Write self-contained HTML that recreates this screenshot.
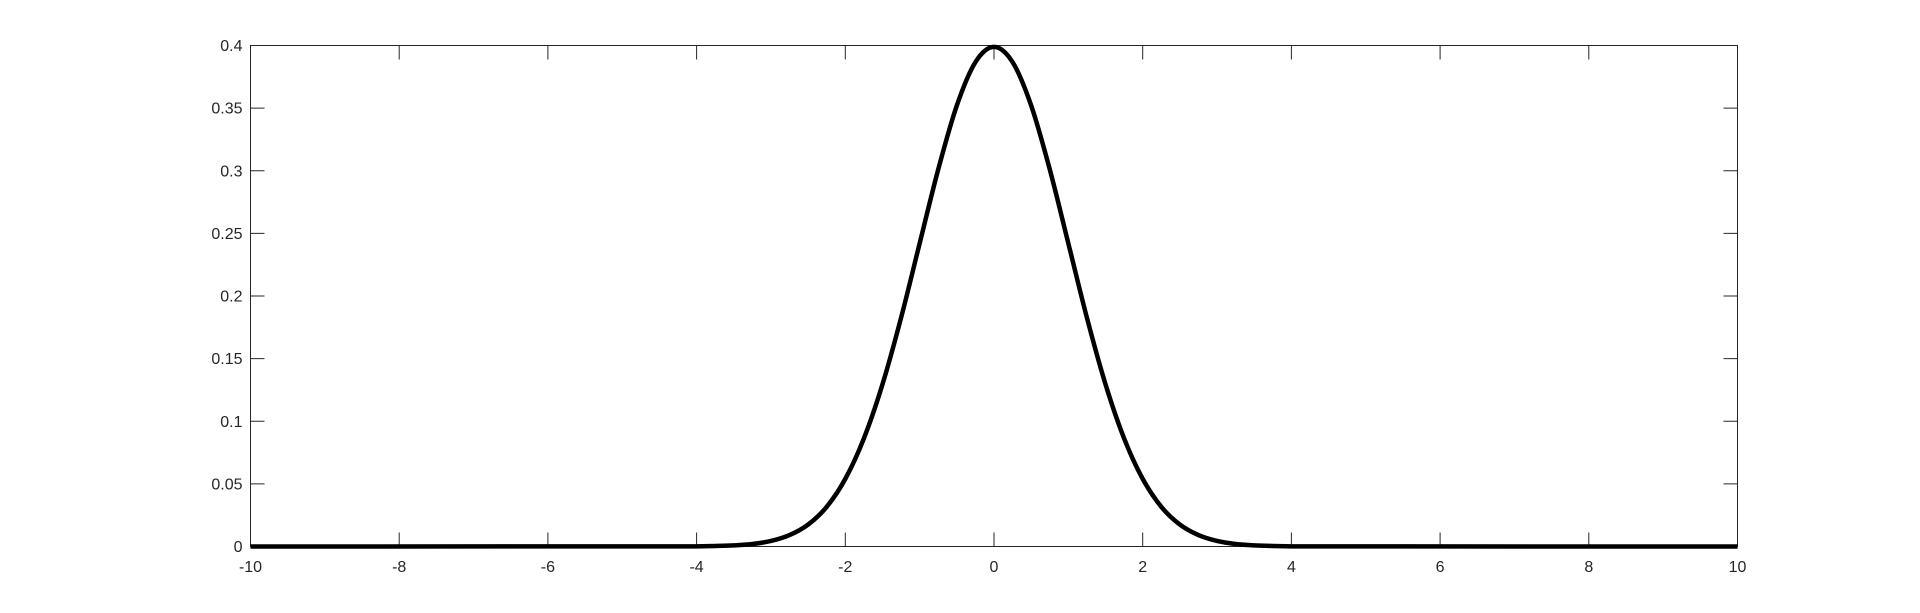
<!DOCTYPE html>
<html><head><meta charset="utf-8"><style>
html,body{margin:0;padding:0;background:#fff;}
svg{display:block;font-family:"Liberation Sans",Arial,sans-serif;}
</style></head><body>
<svg id="chart" width="1920" height="613"></svg>
<script>
const xVals=[-10,-4,-3.75,-3.5,-3.25,-3,-2.75,-2.5,-2.25,-2,-1.75,-1.5,-1.25,-1,-0.75,-0.5,-0.25,0,0.25,0.5,0.75,1,1.25,1.5,1.75,2,2.25,2.5,2.75,3,3.25,3.5,3.75,4,10];
const yVals=[0,0.0001,0.0004,0.0009,0.0020,0.0044,0.0091,0.0175,0.0317,0.0540,0.0863,0.1295,0.1826,0.2420,0.3011,0.3521,0.3867,0.3989,0.3867,0.3521,0.3011,0.2420,0.1826,0.1295,0.0863,0.0540,0.0317,0.0175,0.0091,0.0044,0.0020,0.0009,0.0004,0.0001,0];
const xTicks=[-10,-8,-6,-4,-2,0,2,4,6,8,10];
const yTicks=[0,0.05,0.1,0.15,0.2,0.25,0.3,0.35,0.4];
const yTickLabels=["0","0.05","0.1","0.15","0.2","0.25","0.3","0.35","0.4"];

const L=250.5,R=1737.5,T=45.5,B=546.5;
const sx=v=>L+(v+10)/20*(R-L);
const sy=v=>B-v/0.4*(B-T);
const svg=document.getElementById('chart');
const NS='http://www.w3.org/2000/svg';
function mk(tag,attrs){const e=document.createElementNS(NS,tag);for(const k in attrs)e.setAttribute(k,attrs[k]);svg.appendChild(e);return e;}

const box=mk('rect',{x:L,y:T,width:R-L,height:B-T,fill:'none',stroke:'#262626','stroke-width':1});



xTicks.forEach(t=>{
  const x=sx(t);
  const a=mk('line',{x1:x,x2:x,y1:B,y2:B-14,stroke:'#262626','stroke-width':1});
  
  
  const b=mk('line',{x1:x,x2:x,y1:T,y2:T+14,stroke:'#262626','stroke-width':1});
  
  
  const tx=mk('text',{x:x,y:572,'text-anchor':'middle','font-size':16,fill:'#262626'});
  tx.textContent=String(t);
  
  
});
yTicks.forEach((t,i)=>{
  const y=sy(t);
  const a=mk('line',{x1:L,x2:L+14,y1:y,y2:y,stroke:'#262626','stroke-width':1});
  
  
  const b=mk('line',{x1:R,x2:R-14,y1:y,y2:y,stroke:'#262626','stroke-width':1});
  
  
  const tx=mk('text',{x:L-8,y:y+5.5,'text-anchor':'end','font-size':16,fill:'#262626'});
  tx.textContent=yTickLabels[i];
  
  
});

const pts=xVals.map((v,i)=>[sx(v),sy(yVals[i])]);
const n=pts.length;
let d='M'+pts[0][0]+','+pts[0][1]+' L'+pts[1][0]+','+pts[1][1];
for(let i=1;i<n-2;i++){
  const p0=pts[i-1===0?1:i-1],p1=pts[i],p2=pts[i+1],p3=pts[i+2===n-1?n-2:i+2];
  const c1=[p1[0]+(p2[0]-p0[0])/6,p1[1]+(p2[1]-p0[1])/6];
  const c2=[p2[0]-(p3[0]-p1[0])/6,p2[1]-(p3[1]-p1[1])/6];
  d+=' C'+c1[0]+','+c1[1]+' '+c2[0]+','+c2[1]+' '+p2[0]+','+p2[1];
}
d+=' L'+pts[n-1][0]+','+pts[n-1][1];
const path=mk('path',{d:d,fill:'none',stroke:'#000','stroke-width':4.5,'stroke-linejoin':'round'});


</script>
</body></html>
